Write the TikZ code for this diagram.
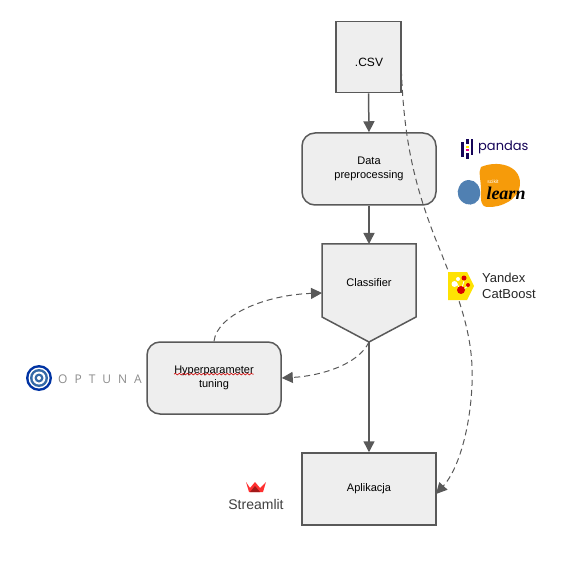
\documentclass[tikz,border=0pt]{standalone}
\usepackage{fontspec}
\setmainfont{Liberation Sans}
\newfontfamily\pandasfont{Poppins}
\newfontfamily\lightfont{Open Sans}
\newfontfamily\learnfont{Liberation Serif}
\usetikzlibrary{arrows.meta,shapes.geometric,decorations.pathmorphing}
\definecolor{boxfill}{HTML}{EEEEEE}
\definecolor{boxline}{HTML}{595959}
\definecolor{navy}{HTML}{150458}
\tikzset{
  box/.style={draw=boxline,fill=boxfill,line width=1.5pt,minimum width=134pt,minimum height=72pt,align=center,font=\fontsize{11}{13.5}\selectfont,inner sep=0pt},
  flow/.style={draw=boxline,line width=1.5pt,-{Triangle[length=11pt,width=11pt]}},
  dashflow/.style={draw=boxline,line width=1pt,dash pattern=on 6pt off 4pt,-{Triangle[length=11pt,width=11pt]}},
  logotext/.style={inner sep=0pt,anchor=west},
}
\begin{document}
\begin{tikzpicture}[x=1pt,y=-1pt]
\useasboundingbox (0,0) rectangle (573,564);
% cylinder
\node[cylinder,shape border rotate=90,aspect=0.55,draw=boxline,fill=boxfill,line width=1.5pt,minimum width=65pt,minimum height=71pt,inner sep=0pt,font=\fontsize{12}{14}\selectfont] (csv) at (368.5,57.5) {};
\node[inner sep=0pt,font=\fontsize{12}{14}\selectfont] (csvlabel) at (369,62.5) {.CSV};
% boxes
\node[box,rounded corners=13pt] (data) at (369,169) {Data\\preprocessing};
\node[box,rounded corners=13pt] (hyper) at (214,378) {\phantom{Hyperparameter}\\tuning};
\node[box] (app) at (369,489) {Aplikacja};
% classifier
\coordinate (cTL) at (322,244);
\coordinate (cTR) at (416,244);
\coordinate (cBR) at (416,317);
\coordinate (cBL) at (322,317);
\coordinate (cTip) at (369,342);
\coordinate (cTop) at (369,244);
\coordinate (cLeft) at (322,293);
\draw[draw=boxline,fill=boxfill,line width=1.5pt] (cTL) -- (cTR) -- (cBR) -- (cTip) -- (cBL) -- cycle;
\node[inner sep=0pt,font=\fontsize{11}{13.5}\selectfont] (cls) at (369,283) {Classifier};
\node[inner sep=0pt,font=\fontsize{11}{13.5}\selectfont] (hyperword) at (214,371) {Hyperparameter};
\draw[red!80!black,line width=0.6pt,decorate,decoration={snake,amplitude=0.8pt,segment length=4pt}] ([yshift=2pt]hyperword.south west) -- ([yshift=2pt]hyperword.south east);
% connectors
\draw[flow] (csv.south) -- (data.north);
\draw[flow] (data.south) -- (cTop);
\draw[flow] (cTip) -- (app.north);
\coordinate (csvR) at (401,60);
\coordinate (appR) at (436,494);
\draw[dashflow] (csvR) .. controls (403,130) and (411,180) .. (440,250) .. controls (462,305) and (474,340) .. (472,385) .. controls (470,430) and (458,470) .. (appR);
\draw[dashflow] (hyper.north) .. controls (217,315) and (265,295) .. (cLeft);
\draw[dashflow] (cTip) .. controls (358,365) and (320,376) .. (hyper.east);
% pandas logo
\fill[navy] (461,142) rectangle (463.5,157);
\fill[navy] (466,139) rectangle (468.5,144);
\fill[navy] (466,153) rectangle (468.5,159);
\fill[navy] (470.5,139) rectangle (473,155);
\fill[yellow!90!orange] (466,146) rectangle (468.5,148);
\fill[magenta] (466,149.5) rectangle (468.5,151.5);
\node[logotext,text=navy,font=\pandasfont\fontsize{13}{15}\selectfont] (pandas) at (478,147) {pandas};
% sklearn logo
\fill[orange!75!yellow!85!brown] (481,167) .. controls (497,160) and (520,165) .. (520,183) .. controls (520,200) and (500,208) .. (487,207) .. controls (480,206) and (481,200) .. (481,190) .. controls (481,180) and (478,172) .. (481,167) -- cycle;
\fill[cyan!60!blue!75!black!85] (469,180) .. controls (476,180) and (481,187) .. (480,195) .. controls (479,203) and (472,206) .. (466,204) .. controls (458,201) and (456,192) .. (459,187) .. controls (461,182) and (465,180) .. (469,180) -- cycle;
\node[inner sep=0pt,text=white,font=\fontsize{5}{6}\selectfont] (scikit) at (493,182) {scikit};
\node[inner sep=0pt,font=\learnfont\itshape\bfseries\fontsize{18}{20}\selectfont] (learn) at (506,193) {learn};
% catboost logo
\fill[yellow!85!orange] (448,272) -- (467,272) -- (474,286) -- (467,300) -- (448,300) -- cycle;
\draw[white,line width=0.8pt] (461,291) -- (456,282) (461,291) -- (464,281) (461,291) -- (468,286);
\fill[white] (454.5,284) circle (3pt);
\fill[red!85!black] (461,290) circle (4pt);
\fill[red!85!black] (464,278) circle (2.5pt);
\fill[red!85!black] (468,285) circle (2pt);
\fill[white] (458,279) circle (2pt);
\node[logotext,align=left,text=black!85,font=\fontsize{13}{16}\selectfont] (catboost) at (482,286) {Yandex\\CatBoost};
% optuna logo
\foreach \r/\c in {13/0E5C9C,10.5/white,8.5/2E86C1,6/white,4.5/2E86C1,2.5/white}{
  \definecolor{ringc}{HTML}{\ifx\c\empty FFFFFF\else 000000\fi}
}
\fill[blue!55!black!80!cyan] (39,378) circle (13pt);
\fill[white] (39,378) circle (10.5pt);
\fill[cyan!50!blue!80!black] (39,378) circle (9pt);
\fill[white] (39,378) circle (6.5pt);
\fill[cyan!50!blue!80!black] (39,378) circle (4.5pt);
\fill[white] (39,378) circle (2pt);
\node[logotext,text=black!45,font=\lightfont\fontsize{12}{14}\selectfont] (optuna) at (58,379) {O\hspace{7pt}P\hspace{7pt}T\hspace{7pt}U\hspace{7pt}N\hspace{7pt}A};
% streamlit logo
\fill[red!75!pink] (246,482) -- (250,488) -- (255,482) -- (260,488) -- (266,482) -- (263,492) -- (249,492) -- cycle;
\fill[red!60!black!90] (250,492) -- (255,486) -- (260,492) -- cycle;
\node[inner sep=0pt,text=black!75,font=\fontsize{14}{16}\selectfont] (streamlit) at (256,504) {Streamlit};
\end{tikzpicture}
\end{document}
